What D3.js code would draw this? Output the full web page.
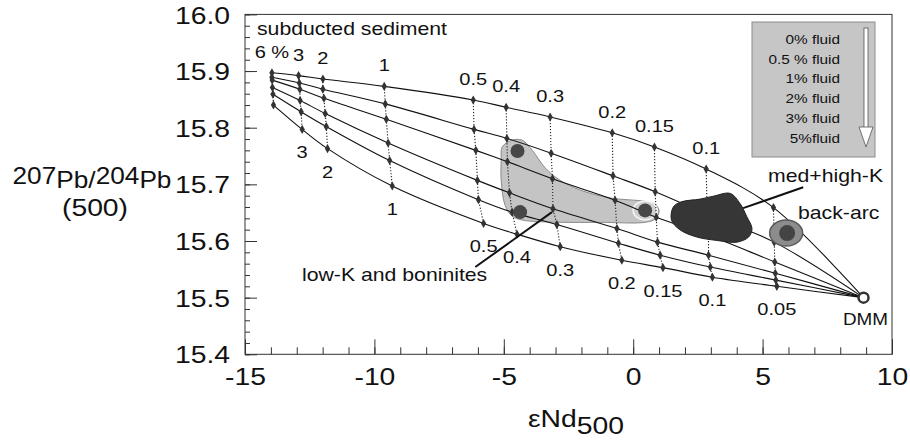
<!DOCTYPE html>
<html>
<head>
<meta charset="utf-8">
<script src="https://cdn.jsdelivr.net/npm/d3@7"></script>
<style>
  body { margin: 0; background: #fff; }
  svg text { font-family: "Liberation Sans", Arial, sans-serif; fill: #111; }
</style>
</head>
<body>
<script>
'use strict';

// page size
let width = 910,
  height = 443

// labels of the sediment fractions along the curves
const fractionLabels = ["6 %", "3", "2", "1", "0.5", "0.4", "0.3", "0.2", "0.15", "0.1", "0.05"];
// one mixing curve per fluid content
const fluidLabels = ["0% fluid", "0.5 % fluid", "1% fluid", "2% fluid", "3% fluid", "5%fluid"];

// eNd(500) of the mixing points, one row per fluid curve
const mixNd = [
  [-13.96, -12.93, -11.99, -9.62, -6.18, -4.91, -3.21, -0.81, 0.82, 2.82, 5.42],
  [-13.96, -12.90, -11.99, -9.58, -6.15, -4.88, -3.17, -0.78, 0.85, 2.86, 5.45],
  [-13.95, -12.88, -11.95, -9.54, -6.08, -4.86, -3.12, -0.70, 0.89, 2.91, 5.47],
  [-13.94, -12.87, -11.90, -9.47, -6.02, -4.78, -3.10, -0.63, 0.94, 2.91, 5.49],
  [-13.92, -12.83, -11.86, -9.41, -5.98, -4.68, -2.95, -0.57, 1.04, 2.98, 5.51],
  [-13.90, -12.79, -11.81, -9.31, -5.78, -4.49, -2.82, -0.44, 1.15, 3.06, 5.55]
];
// 207Pb/204Pb(500) of the mixing points, one row per fluid curve
const mixPb = [
  [15.897, 15.892, 15.886, 15.873, 15.849, 15.836, 15.819, 15.791, 15.766, 15.727, 15.659],
  [15.889, 15.879, 15.868, 15.842, 15.797, 15.781, 15.755, 15.715, 15.687, 15.647, 15.598],
  [15.884, 15.868, 15.852, 15.815, 15.760, 15.740, 15.710, 15.672, 15.642, 15.610, 15.563],
  [15.871, 15.848, 15.825, 15.773, 15.707, 15.685, 15.657, 15.622, 15.598, 15.575, 15.543],
  [15.859, 15.828, 15.802, 15.742, 15.673, 15.651, 15.629, 15.596, 15.575, 15.554, 15.531],
  [15.840, 15.797, 15.763, 15.697, 15.631, 15.612, 15.590, 15.566, 15.553, 15.536, 15.520]
];
// depleted mantle end member
const dmm = [8.9, 15.50];

// low-K and boninites field and its samples
const lowKField = [[-5.06, 15.766], [-4.68, 15.778], [-4.29, 15.778], [-3.90, 15.760], [-3.40, 15.729],
  [-2.82, 15.707], [-2.05, 15.690], [-0.89, 15.676], [0.46, 15.670], [0.85, 15.665], [1.00, 15.653],
  [0.85, 15.639], [0.46, 15.633], [-1.30, 15.633], [-2.82, 15.633], [-4.29, 15.637], [-4.68, 15.644],
  [-4.95, 15.663], [-5.10, 15.707], [-5.10, 15.743]];
const lowKDots = [[-4.47, 15.759], [-4.37, 15.651], [0.46, 15.654]];
// med+high-K field
const medHighKField = [[1.55, 15.660], [1.85, 15.669], [2.59, 15.674], [3.09, 15.679], [3.75, 15.684],
  [4.13, 15.666], [4.39, 15.643], [4.59, 15.622], [4.46, 15.607], [4.01, 15.598], [3.23, 15.601],
  [2.46, 15.607], [1.80, 15.620], [1.48, 15.637]];
// back-arc field centre
const backArc = [5.91, 15.614];
// leader lines of the labels
const lowKLeader = [[-6.10, 15.554], [-3.14, 15.651]];
const medHighKLeader = [[4.25, 15.658], [6.57, 15.695]];

// axes
const xTicks = [-15, -10, -5, 0, 5, 10];
const yTicks = [15.4, 15.5, 15.6, 15.7, 15.8, 15.9, 16.0];

// the scanned figure is a bit wider than the font
const STRETCH = 1.18;

window.onload = function () {
  let svg = d3.select("body")
    .append("svg")
    .attr("width", width)
    .attr("height", height);

  let x = d3.scaleLinear().domain([-15, 10]).range([245, 892]);
  let y = d3.scaleLinear().domain([15.4, 16.0]).range([354.3, 14.4]);

  drawAxes(svg, x, y);
  drawFields(svg, x, y);
  drawCurves(svg, x, y);
  drawOverlays(svg, x, y);
  drawLegend(svg);
  drawLabels(svg);
}

// adds a horizontally stretched text
function addLabel(g, str, px, py, size, anchor) {
  return g.append("text")
    .attr("transform", `translate(${px},${py}) scale(${STRETCH},1)`)
    .attr("text-anchor", anchor || "start")
    .style("font-size", size + "px")
    .text(str);
}

function drawAxes(svg, x, y) {
  let bottom = y.range()[0];
  let left = x.range()[0];

  // minor ticks
  svg.append("g")
    .attr("transform", `translate(0,${bottom})`)
    .call(d3.axisBottom(x).tickValues(d3.range(-15, 11, 1)).tickSize(-7).tickFormat(""))
    .call(g => g.select(".domain").remove());
  svg.append("g")
    .attr("transform", `translate(${left},0)`)
    .call(d3.axisLeft(y).tickValues(d3.range(0, 31).map(i => 15.4 + i * 0.02)).tickSize(-5).tickFormat(""))
    .call(g => g.select(".domain").remove());

  // major ticks with labels (plain hyphen for negatives, as in the figure)
  let xa = svg.append("g")
    .attr("transform", `translate(0,${bottom})`)
    .call(d3.axisBottom(x).tickValues(xTicks).tickSize(-15).tickPadding(14).tickFormat(d => String(d)));
  xa.select(".domain").remove();
  xa.selectAll("text").style("font-size", "24px").attr("transform", `scale(${STRETCH},1)`);

  let ya = svg.append("g")
    .attr("transform", `translate(${left},0)`)
    .call(d3.axisLeft(y).tickValues(yTicks).tickSize(-12).tickFormat(d3.format(".1f")));
  ya.select(".domain").remove();
  ya.selectAll("text").style("font-size", "24px")
    .attr("x", -15 / STRETCH)
    .attr("dy", "0.36em")
    .attr("transform", `scale(${STRETCH},1)`);

  svg.selectAll(".tick line").attr("stroke", "#333");

  // frame
  svg.append("rect")
    .attr("x", left).attr("y", y.range()[1])
    .attr("width", x.range()[1] - left)
    .attr("height", bottom - y.range()[1])
    .attr("fill", "none")
    .attr("stroke", "#333")
    .attr("stroke-width", 1);

  // axis titles
  let yt = svg.append("text")
    .attr("transform", `translate(92,188) scale(${STRETCH - 0.04},1)`)
    .attr("text-anchor", "middle")
    .style("font-size", "23px");
  yt.append("tspan").attr("dy", -4).text("207");
  yt.append("tspan").attr("dy", 4).text("Pb/");
  yt.append("tspan").attr("dy", -4).text("204");
  yt.append("tspan").attr("dy", 4).text("Pb");
  addLabel(svg, "(500)", 95, 216, 24, "middle");

  let xt = svg.append("text")
    .attr("transform", `translate(576,427) scale(${STRETCH},1)`)
    .attr("text-anchor", "middle")
    .style("font-size", "24px");
  xt.append("tspan").text("\u03b5Nd");
  xt.append("tspan").attr("dy", 7).text("500");
}

// the low-K field sits under the mixing curves
function drawFields(svg, x, y) {
  let closed = d3.line()
    .x(d => x(d[0]))
    .y(d => y(d[1]))
    .curve(d3.curveCatmullRomClosed.alpha(0.5));

  svg.append("path")
    .attr("d", closed(lowKField))
    .attr("fill", "#c4c4c4")
    .attr("stroke", "#8a8a8a")
    .attr("stroke-width", 1);

  svg.append("ellipse")
    .attr("cx", x(lowKDots[2][0])).attr("cy", y(lowKDots[2][1]))
    .attr("rx", 12).attr("ry", 9.5)
    .attr("fill", "#d0d0d0")
    .attr("stroke", "#f4f4f4")
    .attr("stroke-width", 1.5);
}

function drawCurves(svg, x, y) {
  let line = d3.line()
    .x(d => x(d[0]))
    .y(d => y(d[1]))
    .curve(d3.curveCatmullRom.alpha(0.5));

  let curves = mixNd.map((row, i) => row.map((v, j) => [v, mixPb[i][j]]).concat([dmm]));

  // dotted lines joining equal sediment fractions
  fractionLabels.forEach((f, j) => {
    let col = mixNd.map((row, i) => [row[j], mixPb[i][j]]);
    svg.append("path")
      .attr("d", d3.line().x(d => x(d[0])).y(d => y(d[1]))(col))
      .attr("fill", "none")
      .attr("stroke", "#222")
      .attr("stroke-width", 1.1)
      .attr("stroke-dasharray", "1.2,1.8");
  });

  svg.append("g")
    .selectAll("path")
    .data(curves)
    .join("path")
    .attr("d", line)
    .attr("fill", "none")
    .attr("stroke", "#111")
    .attr("stroke-width", 1.1);

  let diamond = d3.symbol().type(d3.symbolDiamond).size(24);
  svg.append("g")
    .selectAll("path")
    .data(curves.flatMap(c => c.slice(0, -1)))
    .join("path")
    .attr("transform", d => `translate(${x(d[0])},${y(d[1])})`)
    .attr("d", diamond)
    .attr("fill", "#333");

  // fraction labels above the 0% fluid curve (up to 0.1) and below the 5% fluid curve
  fractionLabels.forEach((f, j) => {
    if (j < fractionLabels.length - 1) {
      addLabel(svg, f, x(mixNd[0][j]), y(mixPb[0][j]) - 15, 17, "middle");
    }
    if (j > 0) {
      addLabel(svg, f, x(mixNd[5][j]), y(mixPb[5][j]) + 29, 17, "middle");
    }
  });
}

// sample dots and the opaque fields on top of the curves
function drawOverlays(svg, x, y) {
  let closed = d3.line()
    .x(d => x(d[0]))
    .y(d => y(d[1]))
    .curve(d3.curveCatmullRomClosed.alpha(0.5));

  svg.append("g")
    .selectAll("circle")
    .data(lowKDots)
    .join("circle")
    .attr("cx", d => x(d[0]))
    .attr("cy", d => y(d[1]))
    .attr("r", 7)
    .attr("fill", "#474747");

  svg.append("path")
    .attr("d", closed(medHighKField))
    .attr("fill", "#363636")
    .attr("stroke", "#222")
    .attr("stroke-width", 1);

  svg.append("ellipse")
    .attr("cx", x(backArc[0])).attr("cy", y(backArc[1]))
    .attr("rx", 16.5).attr("ry", 13)
    .attr("fill", "#8c8c8c")
    .attr("stroke", "#5a5a5a")
    .attr("stroke-width", 1.5);
  svg.append("circle")
    .attr("cx", x(backArc[0]) + 1).attr("cy", y(backArc[1]))
    .attr("r", 8)
    .attr("fill", "#444");

  svg.append("circle")
    .attr("cx", x(dmm[0])).attr("cy", y(dmm[1]))
    .attr("r", 5)
    .attr("fill", "#fff")
    .attr("stroke", "#333")
    .attr("stroke-width", 2.5);

  let straight = d3.line().x(d => x(d[0])).y(d => y(d[1]));
  [lowKLeader, medHighKLeader].forEach(l => {
    svg.append("path")
      .attr("d", straight(l))
      .attr("stroke", "#111")
      .attr("stroke-width", 2);
  });
}

// fluid legend box with its arrow
function drawLegend(svg) {
  let g = svg.append("g");
  g.append("rect")
    .attr("x", 752).attr("y", 22)
    .attr("width", 123).attr("height", 135)
    .attr("fill", "#c6c6c6")
    .attr("stroke", "#8c8c8c");

  fluidLabels.forEach((f, i) => {
    addLabel(g, f, 840, 44 + i * 19.7, 13, "end");
  });

  g.append("rect")
    .attr("x", 864).attr("y", 28)
    .attr("width", 4).attr("height", 100)
    .attr("fill", "#fff")
    .attr("stroke", "#555")
    .attr("stroke-width", 0.8);
  g.append("path")
    .attr("d", "M859,127 L873,127 L866,147 Z")
    .attr("fill", "#fff")
    .attr("stroke", "#555")
    .attr("stroke-width", 0.8);
}

function drawLabels(svg) {
  addLabel(svg, "subducted sediment", 257, 35, 18);
  addLabel(svg, "low-K and boninites", 302, 281, 18);
  addLabel(svg, "med+high-K", 768, 182, 18);
  addLabel(svg, "back-arc", 798, 219, 18);
  addLabel(svg, "DMM", 843, 325, 16);
}
</script>
</body>
</html>
